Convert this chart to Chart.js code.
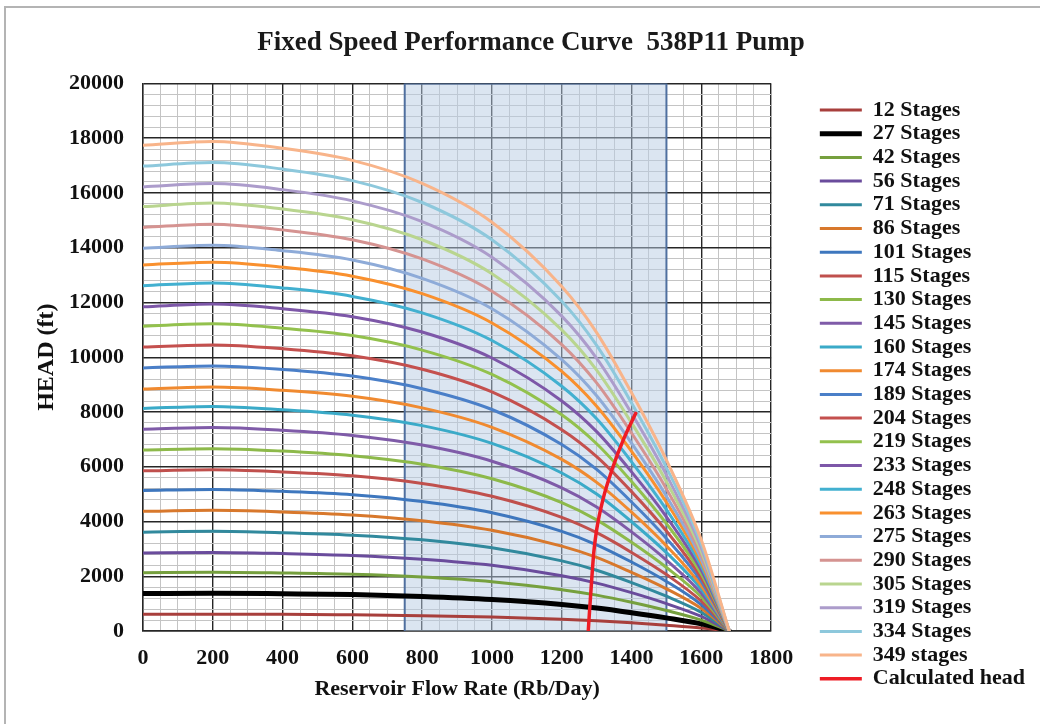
<!DOCTYPE html>
<html>
<head>
<meta charset="utf-8">
<script src="https://cdn.jsdelivr.net/npm/chart.js@4.4.1/dist/chart.umd.min.js"></script>
<style>
  html, body { margin: 0; padding: 0; background: #fff; }
  canvas { display: block; }
</style>
</head>
<body>
<canvas id="pump" width="1040" height="724"></canvas>
<script>
// flow rate points (Rb/Day) shared by all stage curves
var flow = [0, 200, 400, 600, 800, 1000, 1200, 1300, 1400, 1500, 1600, 1680];

// head (ft) per stage count
var h12  = [610, 610, 610, 590, 560, 510, 430, 370, 300, 210, 110, 0];
var h27  = [1370, 1380, 1360, 1330, 1260, 1150, 970, 840, 670, 480, 260, 0];
var h42  = [2130, 2150, 2120, 2070, 1970, 1800, 1510, 1310, 1050, 750, 400, 0];
var h56  = [2850, 2870, 2830, 2760, 2620, 2400, 2020, 1750, 1400, 1000, 530, 0];
var h71  = [3610, 3640, 3590, 3500, 3330, 3040, 2560, 2220, 1770, 1270, 680, 0];
var h86  = [4370, 4410, 4350, 4240, 4030, 3680, 3100, 2690, 2140, 1540, 820, 0];
var h101 = [5130, 5170, 5100, 4980, 4730, 4320, 3640, 3150, 2520, 1810, 960, 0];
var h115 = [5850, 5890, 5810, 5670, 5390, 4920, 4150, 3590, 2870, 2060, 1090, 0];
var h130 = [6610, 6660, 6570, 6400, 6090, 5560, 4690, 4060, 3240, 2320, 1240, 0];
var h145 = [7370, 7430, 7330, 7140, 6790, 6200, 5230, 4530, 3620, 2590, 1380, 0];
var h160 = [8130, 8200, 8080, 7880, 7500, 6850, 5770, 5000, 3990, 2860, 1520, 0];
var h174 = [8840, 8910, 8790, 8570, 8150, 7440, 6270, 5430, 4340, 3110, 1650, 0];
var h189 = [9610, 9680, 9550, 9310, 8850, 8090, 6810, 5900, 4710, 3380, 1800, 0];
var h204 = [10370, 10450, 10310, 10050, 9560, 8730, 7350, 6370, 5090, 3650, 1940, 0];
var h219 = [11130, 11220, 11060, 10790, 10260, 9370, 7900, 6840, 5460, 3920, 2080, 0];
var h233 = [11840, 11940, 11770, 11480, 10920, 9970, 8400, 7280, 5810, 4170, 2220, 0];
var h248 = [12610, 12710, 12530, 12220, 11620, 10610, 8940, 7750, 6180, 4430, 2360, 0];
var h263 = [13370, 13470, 13290, 12960, 12320, 11250, 9480, 8210, 6560, 4700, 2500, 0];
var h275 = [13980, 14090, 13890, 13550, 12880, 11770, 9910, 8590, 6860, 4920, 2620, 0];
var h290 = [14740, 14860, 14650, 14290, 13590, 12410, 10460, 9060, 7230, 5190, 2760, 0];
var h305 = [15500, 15630, 15410, 15020, 14290, 13050, 11000, 9530, 7600, 5450, 2900, 0];
var h319 = [16220, 16340, 16120, 15710, 14950, 13650, 11500, 9960, 7950, 5700, 3030, 0];
var h334 = [16980, 17110, 16870, 16450, 15650, 14290, 12040, 10430, 8330, 5970, 3180, 0];
var h349 = [17740, 17880, 17630, 17190, 16350, 14930, 12580, 10900, 8700, 6240, 3320, 0];

var stageNames = ['12 Stages', '27 Stages', '42 Stages', '56 Stages', '71 Stages', '86 Stages',
    '101 Stages', '115 Stages', '130 Stages', '145 Stages', '160 Stages', '174 Stages',
    '189 Stages', '204 Stages', '219 Stages', '233 Stages', '248 Stages', '263 Stages',
    '275 Stages', '290 Stages', '305 Stages', '319 Stages', '334 Stages', '349 stages'];
var stageHeads = [h12, h27, h42, h56, h71, h86, h101, h115, h130, h145, h160, h174,
    h189, h204, h219, h233, h248, h263, h275, h290, h305, h319, h334, h349];
var stageColors = ['#a83f3c', '#000000', '#76a03e', '#6a4c9c', '#31899d', '#d8782c',
    '#3e77be', '#c0504d', '#8db94a', '#7f5ba8', '#3aaac8', '#f08a30',
    '#4a7fc8', '#c4504e', '#93c14d', '#7d57a8', '#42b0d0', '#f9902e',
    '#8eabd8', '#d59391', '#b9d58f', '#ac9ccb', '#8dc8dc', '#f8b48a'];

// calculated head curve
var calcFlow = [1276, 1280, 1286, 1292, 1300, 1318, 1347, 1377, 1412];
var calcHead = [0, 800, 1900, 2900, 3700, 4800, 6000, 7000, 7950];

// operating range box
var boxFlow = [750, 750, 1500, 1500];
var boxHead = [0, 20000, 20000, 0];

var serif = 'Liberation Serif, Times New Roman, serif';

function pts(xs, ys) {
    return xs.map(function (x, i) { return {x: x, y: ys[i]}; });
}

var datasets = [];
stageHeads.forEach(function (arr, i) {
    datasets.push({
        label: stageNames[i],
        data: pts(flow, arr),
        borderColor: stageColors[i],
        backgroundColor: stageColors[i],
        borderWidth: i === 1 ? 5 : 3,
        borderCapStyle: 'round',
        pointRadius: 0,
        cubicInterpolationMode: 'monotone',
        order: 100 - i
    });
});
datasets.push({
    label: 'Calculated head',
    data: pts(calcFlow, calcHead),
    borderColor: '#ee1c25',
    backgroundColor: '#ee1c25',
    borderWidth: 3.5,
    borderCapStyle: 'round',
    pointRadius: 0,
    cubicInterpolationMode: 'monotone',
    order: 0
});
datasets.push({
    label: 'range',
    data: pts(boxFlow, boxHead),
    borderColor: '#4f6f9f',
    backgroundColor: 'rgba(184, 204, 228, 0.5)',
    borderWidth: 2,
    pointRadius: 0,
    tension: 0,
    fill: 'origin',
    order: 1000
});

var frame = {
    id: 'frame',
    beforeDraw: function (chart) {
        var c = chart.ctx;
        c.save();
        c.fillStyle = '#fff';
        c.fillRect(0, 0, chart.width, chart.height);
        c.strokeStyle = '#b4b4b4';
        c.lineWidth = 2;
        c.strokeRect(5, 7, chart.width + 20, chart.height + 20);
        c.restore();
    }
};

new Chart(document.getElementById('pump').getContext('2d'), {
    type: 'line',
    data: {datasets: datasets},
    plugins: [frame],
    options: {
        responsive: false,
        animation: false,
        layout: {padding: {left: 0, right: 5, top: 0, bottom: 0}},
        scales: {
            x: {
                type: 'linear',
                min: 0,
                max: 1800,
                ticks: {
                    stepSize: 50,
                    autoSkip: false,
                    maxRotation: 0,
                    padding: 14,
                    color: '#111',
                    font: {family: serif, size: 22, weight: 'bold'},
                    callback: function (v) { return v % 200 === 0 ? v : ''; }
                },
                grid: {
                    drawTicks: false,
                    color: function (c) { return c.tick && c.tick.value % 200 === 0 ? '#262626' : '#c4c4c4'; },
                    lineWidth: function (c) { return c.tick && c.tick.value % 200 === 0 ? 1.4 : 1; }
                },
                border: {color: '#262626', width: 1.4},
                title: {
                    display: true,
                    text: 'Reservoir Flow Rate (Rb/Day)',
                    color: '#111',
                    font: {family: serif, size: 22, weight: 'bold'},
                    padding: {top: 0, bottom: 21}
                },
                afterFit: function (s) { s.height = 93; }
            },
            y: {
                min: 0,
                max: 20000,
                ticks: {
                    stepSize: 400,
                    autoSkip: false,
                    padding: 19,
                    color: '#111',
                    font: {family: serif, size: 22, weight: 'bold'},
                    callback: function (v) { return v % 2000 === 0 ? v : ''; }
                },
                grid: {
                    drawTicks: false,
                    color: function (c) { return c.tick && c.tick.value % 2000 === 0 ? '#262626' : '#c4c4c4'; },
                    lineWidth: function (c) { return c.tick && c.tick.value % 2000 === 0 ? 1.4 : 1; }
                },
                border: {color: '#262626', width: 1.4},
                title: {
                    display: true,
                    text: 'HEAD (ft)',
                    color: '#111',
                    font: {family: serif, size: 24, weight: 'bold'},
                    padding: {top: 32, bottom: 0}
                },
                afterFit: function (s) { s.width = 143; }
            },
            gap: {
                position: 'right',
                display: true,
                grid: {display: false},
                ticks: {display: false},
                border: {display: false},
                afterFit: function (s) { s.width = 47; }
            }
        },
        plugins: {
            title: {
                display: true,
                text: '    Fixed Speed Performance Curve  538P11 Pump',
                color: '#1a1a1a',
                font: {family: serif, size: 27, weight: 'bold'},
                padding: {top: 27, bottom: 24}
            },
            legend: {
                position: 'right',
                align: 'start',
                maxWidth: 260,
                title: {display: true, text: ' ', font: {size: 10, lineHeight: 1.2}, padding: {top: 85.3, bottom: 0}},
                labels: {
                    usePointStyle: true,
                    pointStyle: 'line',
                    pointStyleWidth: 42,
                    padding: 1.7,
                    color: '#111',
                    font: {family: serif, size: 22, weight: 'bold'},
                    filter: function (item) { return item.text !== 'range'; },
                    sort: function (a, b) { return a.datasetIndex - b.datasetIndex; }
                }
            },
            tooltip: {enabled: false}
        }
    }
});
</script>
</body>
</html>
